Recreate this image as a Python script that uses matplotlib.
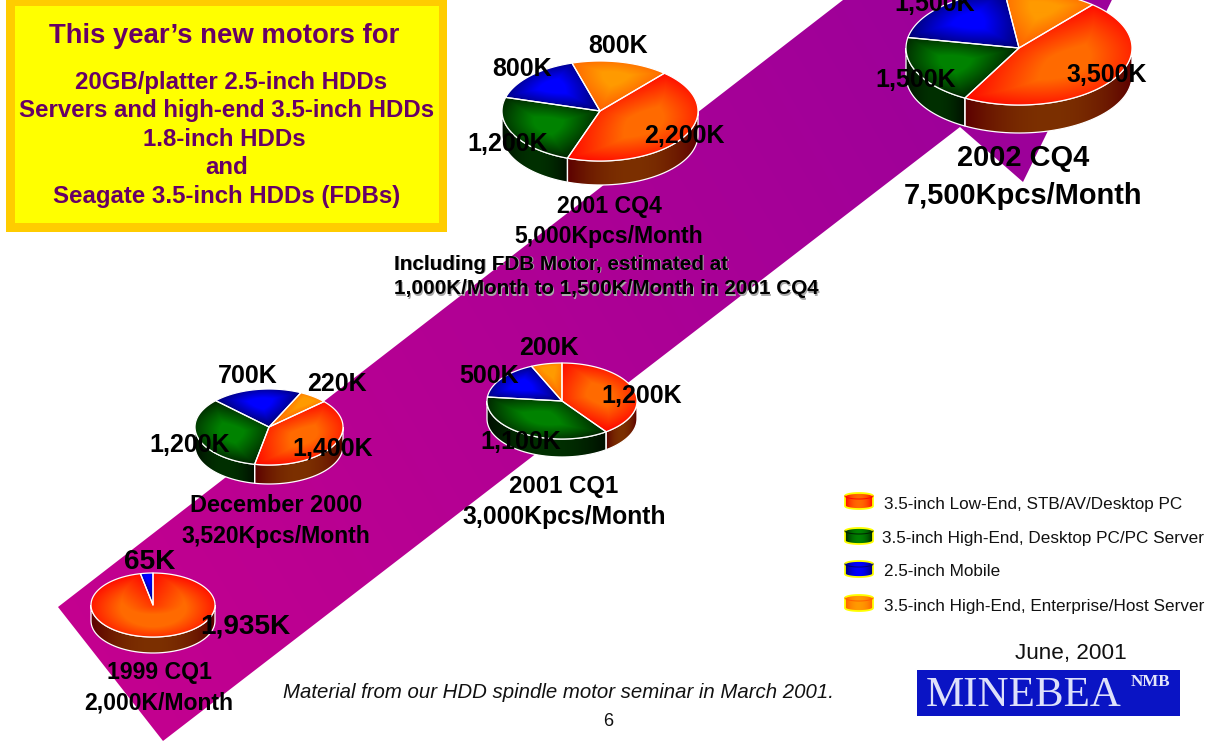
import numpy as np
import matplotlib
matplotlib.use("Agg")
import matplotlib.pyplot as plt
from matplotlib.patches import Polygon, Rectangle
from matplotlib.path import Path

plt.rcParams['font.family'] = ['Liberation Sans', 'DejaVu Sans']

# Monthly spindle motor volumes (Kpcs/month) per period and segment
PERIODS = ["1999 CQ1", "December 2000", "2001 CQ1", "2001 CQ4", "2002 CQ4"]
TOTAL_LABELS = ["2,000K/Month", "3,520Kpcs/Month", "3,000Kpcs/Month",
                "5,000Kpcs/Month", "7,500Kpcs/Month"]
LOW_END = [1935, 1400, 1200, 2200, 3500]
HIGH_END_DESKTOP = [0, 1200, 1100, 1200, 1500]
MOBILE = [65, 700, 500, 800, 1500]
HIGH_END_SERVER = [0, 220, 200, 800, 1000]
SEGMENT_NAMES = ["3.5-inch Low-End, STB/AV/Desktop PC",
                 "3.5-inch High-End, Desktop PC/PC Server",
                 "2.5-inch Mobile",
                 "3.5-inch High-End, Enterprise/Host Server"]
BOX_LINES = ["20GB/platter 2.5-inch HDDs", "Servers and high-end 3.5-inch HDDs",
             "1.8-inch HDDs", "and", "Seagate 3.5-inch HDDs (FDBs)"]

W, H = 1223, 742
fig = plt.figure(figsize=(W / 100, H / 100), dpi=100, facecolor="white")
ax = fig.add_axes([0, 0, 1, 1])
ax.set_xlim(0, W)
ax.set_ylim(H, 0)
ax.axis("off")


def rgb(hexstr):
    return np.array([int(hexstr[i:i + 2], 16) / 255 for i in (1, 3, 5)])


def px(size):
    return size * 0.72


def label(x, y, s, size, weight="bold", color="black", ha="center", va="center", z=20, **kw):
    return ax.text(x, y, s, fontsize=px(size), fontweight=weight, color=color,
                   ha=ha, va=va, zorder=z, **kw)


# Wide diagonal arrow behind the pies
band_pts = [(58, 607), (163, 741), (960, 127), (1023, 182), (1190, -160), (860, -160), (843, 0)]
yy, xx = np.mgrid[0:H, 0:W]
t = np.clip((xx * 0.75 + (H - yy) * 0.45) / 1050, 0, 1)[..., None]
band_img = rgb("#C8008E") * (1 - t) + rgb("#9C009A") * t
band = ax.imshow(band_img, extent=(0, W, H, 0), aspect="auto", zorder=1, interpolation="nearest")
band.set_clip_path(Polygon(band_pts, transform=ax.transData))

# Face colours: (centre, rim) for pie tops, (middle, end) for pie sides
TOP = [("#FF6A00", "#FF0800"), ("#008200", "#002400"), ("#0000FF", "#000070"), ("#FF9A00", "#FF6000")]
SIDE = [("#7C3000", "#5C0000"), ("#003000", "#000E00"), ("#000060", "#000020"), ("#A05000", "#703000")]


def seg_dist(qx, qy, pts):
    # Distance from each query point to the closest edge of a closed outline
    a = np.asarray(pts)
    b = np.roll(a, -1, axis=0)
    best = np.full(qx.shape, np.inf)
    for (ax_, ay_), (bx_, by_) in zip(a, b):
        dx, dy = bx_ - ax_, by_ - ay_
        l2 = dx * dx + dy * dy
        if l2 == 0:
            continue
        u = np.clip(((qx - ax_) * dx + (qy - ay_) * dy) / l2, 0, 1)
        best = np.minimum(best, np.hypot(qx - ax_ - u * dx, qy - ay_ - u * dy))
    return best


def gradient_face(pts, inner, outer, z, scale_y=1.0):
    # Shade a slice top: brightest inside, falling off towards its outline
    pts = np.asarray(pts)
    x0, y0 = np.floor(pts.min(axis=0))
    x1, y1 = np.ceil(pts.max(axis=0))
    gy, gx = np.mgrid[y0:y1 + 1, x0:x1 + 1]
    pp = pts.copy()
    pp[:, 1] = pp[:, 1] * scale_y
    d = seg_dist(gx, gy * scale_y, pp)
    inside = Path(pts).contains_points(np.c_[gx.ravel(), gy.ravel()]).reshape(gx.shape)
    dmax = max(d[inside].max() if inside.any() else 1, 1)
    peak = np.unravel_index(np.argmax(np.where(inside, d, -1)), d.shape)
    r = np.hypot(gx - gx[peak], (gy - gy[peak]) * scale_y)
    rmax = max(r[inside].max(), 1)
    f_path = np.clip(d / dmax, 0, 1)
    f_rad = np.clip(1 - r / rmax, 0, 1)
    f = (0.5 * f_path + 0.5 * f_rad)[..., None]
    f = np.clip(f * 1.35, 0, 1)
    img = rgb(outer) * (1 - f) + rgb(inner) * f
    im = ax.imshow(img, extent=(x0 - .5, x1 + .5, y1 + .5, y0 - .5), aspect="auto",
                   zorder=z, interpolation="bilinear")
    im.set_clip_path(Polygon(pts, transform=ax.transData))
    ax.add_patch(Polygon(pts, closed=True, fill=False, ec="white", lw=0.9, zorder=z + 0.1, joinstyle="round"))


def side_face(cx, cy, rx, ry, depth, a0, a1, mid, end, z):
    # Visible wall of a slice, shaded across its width
    a = np.radians(np.linspace(a0, a1, 50))
    xs, ys = cx + rx * np.sin(a), cy - ry * np.cos(a)
    pts = np.r_[np.c_[xs, ys], np.c_[xs[::-1], ys[::-1] + depth]]
    x0, x1 = xs.min(), xs.max()
    gx = np.linspace(x0, x1, 200)
    f = (1 - np.abs((gx - (x0 + x1) / 2) / ((x1 - x0) / 2 + 1e-6)) ** 2)[None, :, None]
    img = rgb(end) * (1 - f) + rgb(mid) * f
    im = ax.imshow(img, extent=(x0, x1, cy + ry + depth + 1, cy - 2), aspect="auto",
                   zorder=z, interpolation="bilinear")
    im.set_clip_path(Polygon(pts, transform=ax.transData))
    ax.add_patch(Polygon(pts, closed=True, fill=False, ec="white", lw=0.9, zorder=z + 0.1))


def draw_pie(values, start, cx, cy, rx, ry, depth, z=5):
    total = sum(values)
    angle = start
    spans = []
    for i, v in enumerate(values):
        sweep = 360.0 * v / total
        spans.append((i, angle, angle + sweep))
        angle += sweep
    # Walls first, for the lower half of the ellipse only
    for i, a0, a1 in spans:
        if a1 == a0:
            continue
        for k in (0, 360):
            lo, hi = max(a0 - k, 90), min(a1 - k, 270)
            if hi > lo:
                side_face(cx, cy, rx, ry, depth, lo, hi, SIDE[i][0], SIDE[i][1], z)
    for i, a0, a1 in spans:
        if a1 == a0:
            continue
        a = np.radians(np.linspace(a0, a1, max(int(a1 - a0), 4)))
        pts = np.r_[[(cx, cy)], np.c_[cx + rx * np.sin(a), cy - ry * np.cos(a)]]
        gradient_face(pts, TOP[i][0], TOP[i][1], z + 1, scale_y=rx / ry)


SERIES = [LOW_END, HIGH_END_DESKTOP, MOBILE, HIGH_END_SERVER]
# start angle, centre x, centre y, radius x, radius y, wall height
PIE_GEOMETRY = [(0, 153, 605, 62, 32, 16),
                (48, 269, 427, 74, 38, 19),
                (0, 562, 401, 75, 38, 18),
                (41, 600, 111, 98, 50, 24),
                (40.6, 1019, 48, 113, 57, 28)]
for n, geom in enumerate(PIE_GEOMETRY):
    start, cx, cy, rx, ry, depth = geom
    draw_pie([s[n] for s in SERIES], start, cx, cy, rx, ry, depth)

# Slice labels: one centre per segment, None where no label is drawn
LABEL_SPOTS = [
    [(245, 626), None, (150, 562), None],
    [(333, 449), (190, 445), (248, 376), (337, 384)],
    [(642, 396), (521, 442), (489, 376), (549, 348)],
    [(684, 136), (508, 144), (522, 69), (618, 46)],
    [(1107, 75), (916, 80), (935, 4), None],
]
LABEL_SIZES = [28, 25, 25, 25, 25]
for n, spots in enumerate(LABEL_SPOTS):
    for s, spot in zip(SERIES, spots):
        if spot is not None:
            label(spot[0], spot[1], f"{s[n]:,}K", LABEL_SIZES[n])

# Period captions under each pie: centre x, two line positions, two sizes
CAPTIONS = [(159, 673, 703, 23, 23), (276, 506, 536, 23.5, 23), (564, 487, 517, 24, 24.8),
            (609, 206, 236, 23, 23), (1023, 158, 196, 29, 29)]
for (cx, y1, y2, s1, s2), period, total in zip(CAPTIONS, PERIODS, TOTAL_LABELS):
    label(cx, y1, period, s1)
    label(cx, y2, total, s2)

# Shadowed note beside the 2001 CQ4 pie
for dx, col, z in ((1, "#AAAAAA", 19), (0, "black", 20)):
    label(394 + dx, 264 + dx, "Including FDB Motor, estimated at", 20.6, ha="left", color=col, z=z)
    label(394 + dx, 289 + dx, "1,000K/Month to 1,500K/Month in 2001 CQ4", 20.6, ha="left", color=col, z=z)

# Highlight box
ax.add_patch(Rectangle((6, -2), 441, 234, fc="#FFCC00", ec="none", zorder=30))
ax.add_patch(Rectangle((15, 6), 424, 217, fc="#FFFF00", ec="none", zorder=31))
label(224, 36, "This year\u2019s new motors for", 27.5, color="#660066", z=32)
for (lx, ly), line in zip([(231, 83), (227, 111), (224, 140), (227, 168), (227, 197)], BOX_LINES):
    label(lx, ly, line, 24, color="#660066", z=32)

# Legend with small cylinders
LEGEND_ROWS = [(845, 493, 884, 504), (845, 528, 882, 539), (845, 561, 884, 571), (845, 595, 884, 606)]
for (sx, sy, tx, ty), name, col in zip(LEGEND_ROWS, SEGMENT_NAMES, TOP):
    a = np.radians(np.linspace(0, 180, 30))
    ex, ey = 14 * np.cos(a), 3 * np.sin(a)
    outline = np.r_[np.c_[sx + 14 + ex, sy + 3 - ey], np.c_[sx + 14 - ex, sy + 13 + ey]]
    gx = np.linspace(0, 1, 40)
    f = (1 - np.abs(2 * gx - 1) ** 2)[None, :, None]
    im = ax.imshow(rgb(col[1]) * (1 - f) + rgb(col[0]) * f, extent=(sx, sx + 28, sy + 17, sy),
                   aspect="auto", zorder=10, interpolation="bilinear")
    im.set_clip_path(Polygon(outline, transform=ax.transData))
    ax.add_patch(Polygon(outline, fill=False, ec="#FFFF00", lw=1.3, zorder=11))
    rim = np.c_[sx + 14 + ex, sy + 3 + ey]
    ax.plot(rim[:, 0], rim[:, 1], color=col[1], lw=0.7, zorder=11)
    label(tx, ty, name, 17.1, weight="normal", ha="left", color="#111111")

# Footer
label(558, 692, "Material from our HDD spindle motor seminar in March 2001.", 20.4,
      weight="normal", style="italic", color="#111111")
label(608, 722, "6", 18, weight="normal", color="#111111")
ax.text(1071, 654, "June, 2001", fontsize=px(22.5), ha="center", va="center", color="#111111",
        zorder=20)

# Company logo
ax.add_patch(Rectangle((917, 670), 263, 46, fc="#0A14C4", ec="none", zorder=12))
ax.text(1024, 696, "MINEBEA", fontsize=px(43), family=["Liberation Serif"], color="#DDE0FA",
        ha="center", va="center", zorder=13)
ax.text(1150, 682, "NMB", fontsize=px(17), family=["Liberation Serif"], fontweight="bold",
        color="#E4E6FA", ha="center", va="center", zorder=13)

ax.set_xlim(0, W)
ax.set_ylim(H, 0)
fig.savefig("out.png", dpi=100, facecolor="white")
